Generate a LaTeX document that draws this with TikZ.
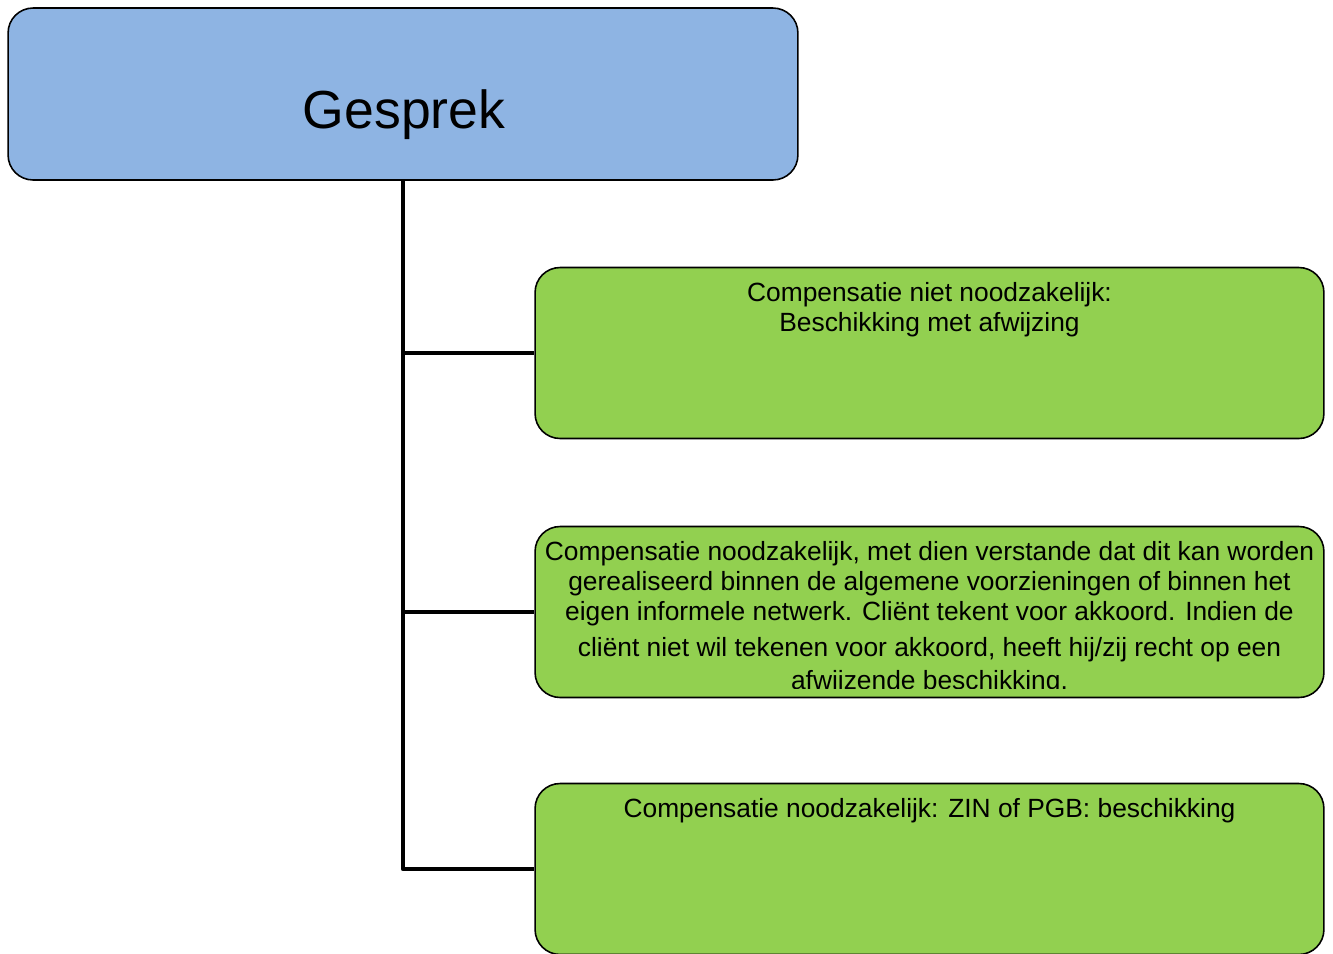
\documentclass[tikz,border=0pt]{standalone}
\usepackage{fontspec}
\setmainfont{Liberation Sans}
\usepackage{xcolor}
\usetikzlibrary{arrows,positioning,shapes}

\definecolor{gesprekblue}{HTML}{8EB4E3}
\definecolor{besluitgreen}{HTML}{92D050}

\begin{document}
\begin{tikzpicture}[
            line join = round,
            x = 0.02cm, % one unit is one pixel of the sketch
            y = -0.02cm,
            thick % line style
        ]

        \tikzstyle{topbox}=[
            draw = black,
            line width = 0.9pt,
            fill = gesprekblue,
            rounded corners = 0.5cm,
            minimum width = 15.8cm,
            minimum height = 3.44cm
        ]
        \tikzstyle{greenbox}=[
            draw = black,
            line width = 0.9pt,
            fill = besluitgreen,
            rounded corners = 0.5cm,
            minimum width = 15.78cm,
            minimum height = 3.42cm
        ]
        \tikzstyle{boxtext}=[
            anchor = north,
            inner sep = 0pt,
            align = center,
            font = \fontsize{15}{17.2}\selectfont
        ]
        \tikzstyle{branch}=[
            draw = black,
            line width = 2.7pt
        ]

        \useasboundingbox (0,0) rectangle (1333,954);

        % Blocks
        \node[topbox] (gesprek) at (403,94) {};
        \node[font = \fontsize{30.5}{36}\selectfont] (gespreklabel) at (404,115) {Gesprek};

        \node[greenbox] (afwijzing) at (929.5,353) {};
        \node[greenbox] (voorziening) at (929.5,612) {};
        \node[greenbox] (zin) at (929.5,869) {};

        % Lines
        \path[branch] (gesprek.south) |- (zin.west);
        \path[branch] (gesprek.south) |- (afwijzing.west);
        \path[branch] (gesprek.south) |- (voorziening.west);

        % Texts
        \node[boxtext] (afwijzingtext) [at={([yshift=-0.3cm]afwijzing.north)}]
            {Compensatie niet noodzakelijk:\\Beschikking met afwijzing};
        \begin{scope}
            \clip (voorziening.north west) rectangle ([yshift=0.2cm]voorziening.south east);
            \node[boxtext] (voorzieningtext) [at={([yshift=-0.3cm]voorziening.north)}]
                {Compensatie noodzakelijk, met dien verstande dat dit kan worden\\
                 gerealiseerd binnen de algemene voorzieningen of binnen het\\
                 eigen informele netwerk. Cliënt tekent voor akkoord. Indien de\\[3pt]
                 cliënt niet wil tekenen voor akkoord, heeft hij/zij recht op een\\[1.5pt]
                 afwijzende beschikking.};
        \end{scope}
        \node[boxtext] (zintext) [at={([yshift=-0.3cm]zin.north)}]
            {Compensatie noodzakelijk: ZIN of PGB: beschikking};

\end{tikzpicture}
\end{document}
